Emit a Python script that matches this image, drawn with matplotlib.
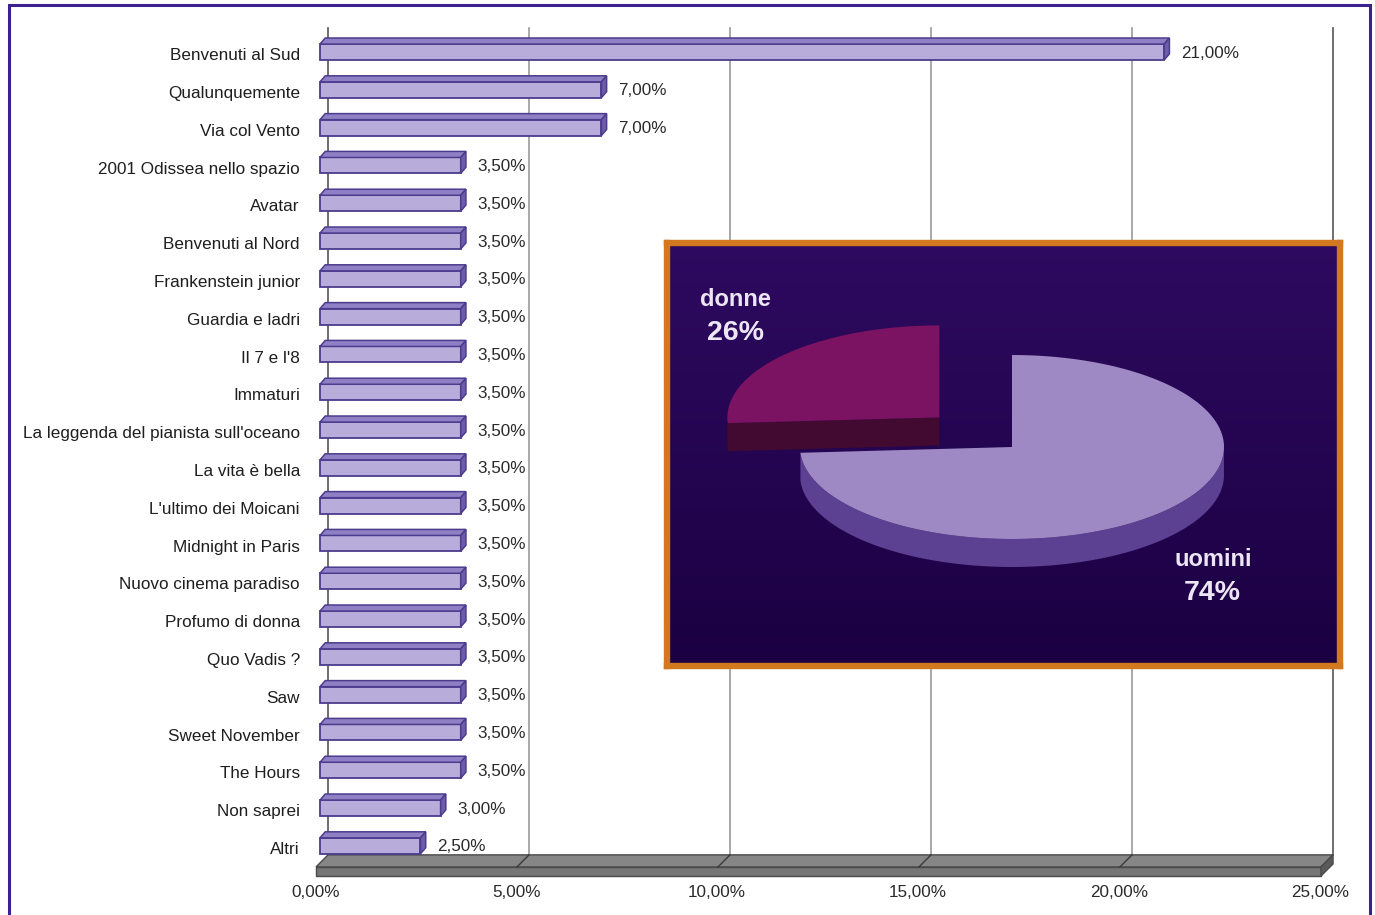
import numpy as np
import matplotlib
matplotlib.use("Agg")
import matplotlib.pyplot as plt
from matplotlib.patches import Polygon, Rectangle

# dati del grafico a barre (percentuali)
film = ["Benvenuti al Sud", "Qualunquemente", "Via col Vento",
        "2001 Odissea nello spazio", "Avatar", "Benvenuti al Nord",
        "Frankenstein junior", "Guardia e ladri", "Il 7 e l'8", "Immaturi",
        "La leggenda del pianista sull'oceano", "La vita è bella",
        "L'ultimo dei Moicani", "Midnight in Paris", "Nuovo cinema paradiso",
        "Profumo di donna", "Quo Vadis ?", "Saw", "Sweet November",
        "The Hours", "Non saprei", "Altri"]
percentuali = [21.0, 7.0, 7.0, 3.5, 3.5, 3.5, 3.5, 3.5, 3.5, 3.5, 3.5,
               3.5, 3.5, 3.5, 3.5, 3.5, 3.5, 3.5, 3.5, 3.5, 3.0, 2.5]
tick_valori = [0, 5, 10, 15, 20, 25]

# dati della torta (inserto)
sesso = ["uomini", "donne"]
quote = [74, 26]

plt.rcParams['font.family'] = ['Liberation Sans', 'DejaVu Sans']

fig = plt.figure(figsize=(13.75, 9.15), dpi=100)
fig.patch.set_facecolor("white")

# asse principale su tutta la figura: x in percento, y in righe
# px = 320 + 40.2*x ; py = 52 + 37.8*riga
ax = fig.add_axes([0, 0, 1, 1])
ax.set_xlim((0 - 320) / 40.2, (1375 - 320) / 40.2)
ax.set_ylim((915 - 52) / 37.8, (0 - 52) / 37.8)
ax.axis("off")

righe = np.arange(len(film))
dx_back = 0.2      # piano di fondo
h = 0.42           # altezza barra
ddx, ddy = 0.13, 0.16   # profondita barra
fs = 12.3

# griglia verticale
for v in tick_valori:
    col = "#555555" if v in (0, 25) else "#999999"
    ax.plot([v + dx_back, v + dx_back], [-0.64, 21.24], color=col, lw=1.2, zorder=1)

# pavimento grigio
f_back, f_front, f_bot = 21.24, 21.56, 21.80
ax.add_patch(Polygon([(dx_back, f_back), (25 + dx_back, f_back), (24.9, f_front), (-0.1, f_front)],
                     closed=True, facecolor="#868686", edgecolor="#4a4a4a", lw=1, zorder=2))
ax.add_patch(Polygon([(-0.1, f_front), (24.9, f_front), (24.9, f_bot), (-0.1, f_bot)],
                     closed=True, facecolor="#767676", edgecolor="#4a4a4a", lw=1, zorder=2))
ax.add_patch(Polygon([(24.9, f_front), (25 + dx_back, f_back), (25 + dx_back, f_back + 0.24), (24.9, f_bot)],
                     closed=True, facecolor="#5a5a5a", edgecolor="#4a4a4a", lw=1, zorder=2))
for v in tick_valori[1:-1]:
    ax.plot([v + dx_back, v - 0.1], [f_back, f_front], color="#3a3a3a", lw=1, zorder=3)

# barre 3D
ax.barh(righe, percentuali, height=h, left=0, color="#b8acda",
        edgecolor="#4b3c8e", linewidth=1.3, zorder=4)
for r, v in zip(righe, percentuali):
    top = r - h / 2
    ax.add_patch(Polygon([(0, top), (v, top), (v + ddx, top - ddy), (ddx, top - ddy)],
                         closed=True, facecolor="#8f7fc4", edgecolor="#4b3c8e", lw=1.1, zorder=4))
    ax.add_patch(Polygon([(v, top), (v + ddx, top - ddy), (v + ddx, r + h / 2 - ddy), (v, r + h / 2)],
                         closed=True, facecolor="#6e5caa", edgecolor="#4b3c8e", lw=1.1, zorder=4))
    ax.text(v + 0.42, r + 0.03, f"{v:.2f}%".replace(".", ","), ha="left", va="center",
            fontsize=fs, color="#2a2a2a", zorder=5)
    ax.text(-0.5, r + 0.1, film[r], ha="right", va="center", fontsize=fs,
            color="#1e1e1e", zorder=5)

for v in tick_valori:
    ax.text(v - 0.12, 22.24, f"{v:.2f}%".replace(".", ","), ha="center", va="center",
            fontsize=fs, color="#2a2a2a")

# cornice esterna
fig.patches.append(Rectangle((9 / 1375, -0.02), 1361 / 1375, 1 - 5 / 915 + 0.02,
                             transform=fig.transFigure, fill=False,
                             edgecolor="#3c2290", lw=2.2, zorder=0))

# inserto con la torta
W, H = 673, 423
axp = fig.add_axes([667 / 1375, 1 - 666 / 915, W / 1375, H / 915])
axp.set_xlim(0, W)
axp.set_ylim(H, 0)
axp.set_xticks([])
axp.set_yticks([])
for s in axp.spines.values():
    s.set_color("#d2791f")
    s.set_linewidth(4.6)
grad = np.linspace(0, 1, 256).reshape(-1, 1)
cmap = matplotlib.colors.LinearSegmentedColormap.from_list("bg", ["#2e0a60", "#1b0042"])
axp.imshow(grad, cmap=cmap, extent=[0, W, H, 0], aspect="auto", zorder=0)

cx, cy, a, b, prof = 345, 204, 212, 92, 28
col_top = {"uomini": "#9e89c4", "donne": "#7b1262"}
col_side = {"uomini": "#5c4091", "donne": "#420a30"}
esplodi = {"uomini": 0.0, "donne": 0.47}

# angoli: si parte da ore 12 in senso orario
ang = [90.0]
for q in quote:
    ang.append(ang[-1] - q / sum(quote) * 360)

ordine = [1, 0]  # prima donne (dietro), poi uomini
for i in ordine:
    nome = sesso[i]
    t1, t2 = np.radians(ang[i + 1]), np.radians(ang[i])
    mid = (t1 + t2) / 2
    ox = cx + esplodi[nome] * a * np.cos(mid)
    oy = cy - esplodi[nome] * b * np.sin(mid)
    t = np.linspace(t1, t2, 200)
    xs = ox + a * np.cos(t)
    ys = oy - b * np.sin(t)
    # faccia radiale visibile
    for te, segno in ((t1, -1), (t2, 1)):
        normale = te + segno * np.pi / 2
        if np.sin(normale) < -0.05:
            ex, ey = ox + a * np.cos(te), oy - b * np.sin(te)
            axp.add_patch(Polygon([(ox, oy), (ex, ey), (ex, ey + prof), (ox, oy + prof)],
                                  closed=True, facecolor=col_side[nome], edgecolor="none", zorder=2))
    # bordo esterno frontale
    fr = np.sin(t) < 0
    if fr.any():
        fx, fy = xs[fr], ys[fr]
        pts = list(zip(fx, fy)) + list(zip(fx[::-1], fy[::-1] + prof))
        axp.add_patch(Polygon(pts, closed=True, facecolor=col_side[nome], edgecolor="none", zorder=2))
    axp.add_patch(Polygon([(ox, oy)] + list(zip(xs, ys)), closed=True,
                          facecolor=col_top[nome], edgecolor="none", zorder=3))

axp.text(33, 56, "donne", color="#ece6f4", fontsize=17, fontweight="bold", ha="left", va="center")
axp.text(40, 90, "26%", color="#ece6f4", fontsize=20.5, fontweight="bold", ha="left", va="center")
axp.text(507, 316, "uomini", color="#ece6f4", fontsize=17, fontweight="bold", ha="left", va="center")
axp.text(517, 350, "74%", color="#ece6f4", fontsize=20.5, fontweight="bold", ha="left", va="center")

fig.savefig("out.png", dpi=100)
